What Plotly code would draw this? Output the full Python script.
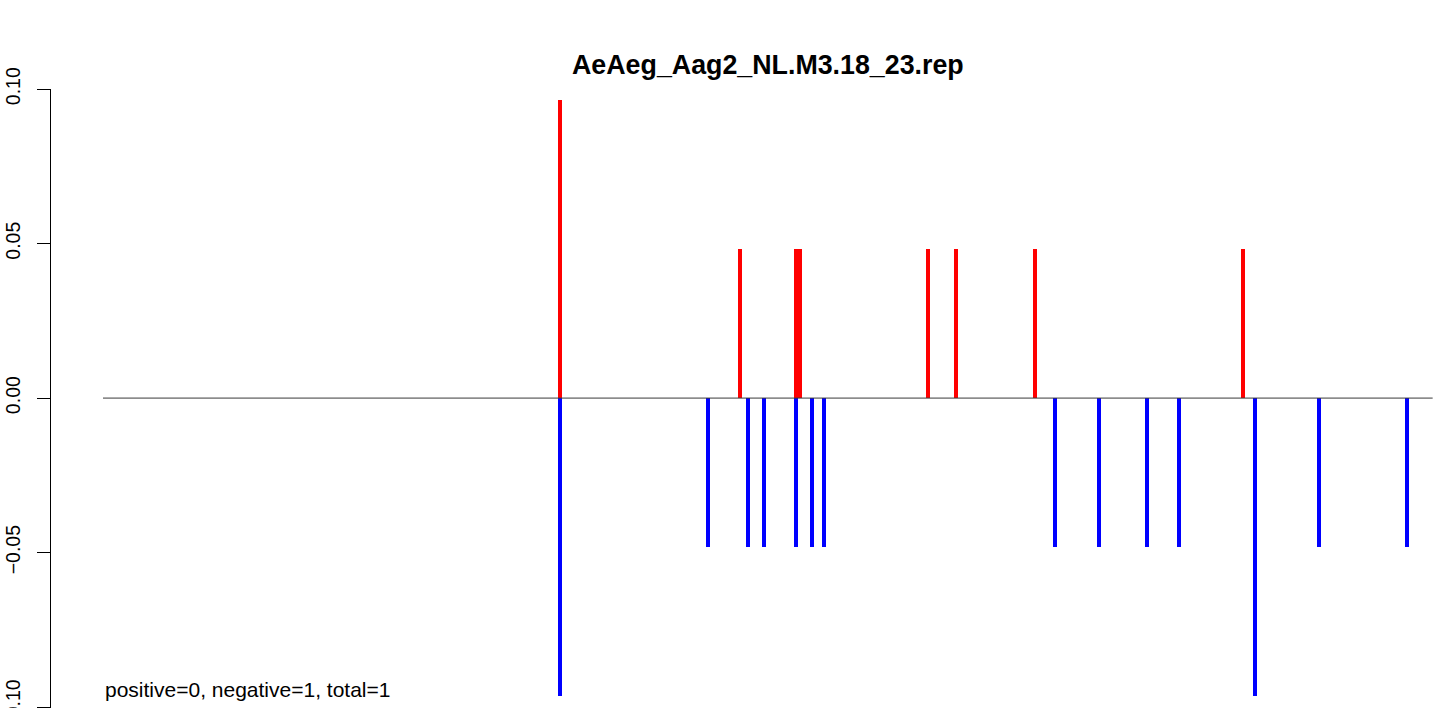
import plotly.graph_objects as go

# ---- data ----
seq_length = 333
pos_positions = [115, 160, 174, 175, 207, 214, 234, 286]
pos_values = [0.0965, 0.0483, 0.0483, 0.0483, 0.0483, 0.0483, 0.0483, 0.0483]
neg_positions = [115, 152, 162, 166, 174, 178, 181, 239, 250, 262, 270, 289, 305, 327]
neg_values = [-0.0965, -0.0483, -0.0483, -0.0483, -0.0483, -0.0483, -0.0483,
              -0.0483, -0.0483, -0.0483, -0.0483, -0.0965, -0.0483, -0.0483]
y_ticks = [-0.10, -0.05, 0.00, 0.05, 0.10]
y_tick_labels = ["\u22120.10", "\u22120.05", "0.00", "0.05", "0.10"]
title_text = "AeAeg_Aag2_NL.M3.18_23.rep"
summary_text = "positive=0, negative=1, total=1"

W, H = 1441, 708
FONT = "Liberation Sans, Arial, Helvetica, sans-serif"

# pixel geometry
left_px = 51
top_px = 89
bottom_px = 709
px_per_unit = 3.993
x0_px = 103  # pixel of x = 0.5
x_min = 0.5 + (left_px - x0_px) / px_per_unit
x_max = 0.5 + (W - x0_px) / px_per_unit

px_per_y = 3095.0
zero_px = 398.5
y_top = (zero_px - top_px) / px_per_y + 0.00005
y_bot = (zero_px - bottom_px) / px_per_y

fig = go.Figure()

fig.add_trace(go.Scatter(
    x=[0.5, seq_length + 0.5], y=[0, 0], mode="lines",
    line=dict(color="#3a3a3a", width=1), hoverinfo="skip", showlegend=False,
))
fig.add_trace(go.Bar(
    x=pos_positions, y=pos_values, width=1.0,
    marker=dict(color="#FF0000", line=dict(width=0)), showlegend=False,
))
fig.add_trace(go.Bar(
    x=neg_positions, y=neg_values, width=1.0,
    marker=dict(color="#0000FF", line=dict(width=0)), showlegend=False,
))

fig.update_layout(
    width=W, height=H,
    margin=dict(l=left_px, r=0, t=top_px, b=max(H - bottom_px, 0), pad=0, autoexpand=False),
    paper_bgcolor="white", plot_bgcolor="white",
    barmode="overlay", bargap=0,
    showlegend=False,
    xaxis=dict(range=[x_min, x_max], visible=False, showgrid=False, zeroline=False,
               automargin=False),
    yaxis=dict(
        range=[y_bot, y_top], automargin=False,
        showgrid=False, zeroline=False,
        showline=True, linecolor="black", linewidth=1,
        ticks="outside", ticklen=13, tickwidth=1, tickcolor="black",
        tickvals=y_ticks, ticktext=y_tick_labels,
        tickangle=-90, ticklabelstandoff=9, ticklabeloverflow="allow",
        tickfont=dict(family=FONT, size=19.5, color="black"),
    ),
    annotations=[
        dict(
            text="<b>" + title_text + "</b>",
            xref="x", x=(0.5 + seq_length + 0.5) / 2,
            yref="paper", y=1 + (top_px - 65) / (bottom_px - top_px),
            xanchor="center", yanchor="middle", showarrow=False,
            font=dict(family=FONT, size=26.8, color="black"),
        ),
        dict(
            text=summary_text,
            xref="x", x=0.5, yref="y", y=(zero_px - 690) / px_per_y,
            xanchor="left", yanchor="middle", showarrow=False,
            font=dict(family=FONT, size=21, color="black"),
        ),
    ],
)

fig.write_html(
    "out.html",
    config={"displayModeBar": False},
    post_script="document.body.style.margin='0';document.body.style.overflow='hidden';",
)
